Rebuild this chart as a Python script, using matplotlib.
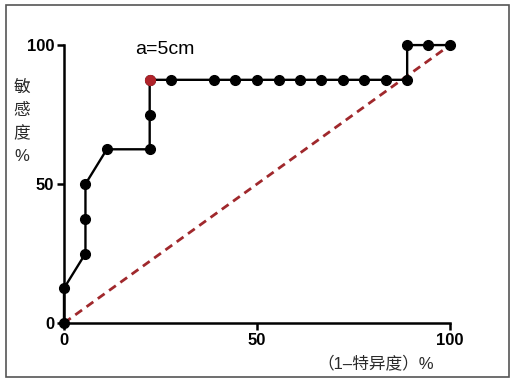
import matplotlib.pyplot as plt
from matplotlib.patches import Rectangle

plt.rcParams['font.family'] = ['Liberation Sans', 'Noto Sans CJK SC', 'DejaVu Sans']

# ROC points: 1 - specificity (%) and sensitivity (%)
fpr = [0, 0, 5.56, 5.56, 5.56, 11.1, 22.2, 22.2, 22.2, 27.8, 38.9, 44.4, 50.0,
       55.6, 61.1, 66.7, 72.2, 77.8, 83.3, 88.9, 88.9, 94.4, 100]
tpr = [0, 12.5, 25, 37.5, 50, 62.5, 62.5, 75, 87.5, 87.5, 87.5, 87.5, 87.5,
       87.5, 87.5, 87.5, 87.5, 87.5, 87.5, 87.5, 100, 100, 100]
cut_x, cut_y = 22.2, 87.5
cut_label = 'a=5cm'
ticks = [0, 50, 100]

fig = plt.figure(figsize=(5.14, 3.82), dpi=100)
ax = fig.add_axes([0.1245, 0.1545, 0.751, 0.7275])

# reference diagonal
ax.plot([0, 100], [0, 100], color='#a0282c', lw=2.0, ls=(0, (3, 2)), zorder=2, clip_on=False)
# ROC curve
ax.plot(fpr, tpr, color='black', lw=1.7, marker='o', ms=7, zorder=3, clip_on=False)
ax.plot([cut_x], [cut_y], 'o', color='#b0232a', ms=7, zorder=4, clip_on=False)
ax.text(cut_x + 4, cut_y + 8, cut_label, ha='center', va='bottom', fontsize=14)

ax.set_xlim(0, 100)
ax.set_ylim(0, 100)
ax.set_xticks(ticks)
ax.set_yticks(ticks)
for s in ['top', 'right']:
    ax.spines[s].set_visible(False)
for s in ['left', 'bottom']:
    ax.spines[s].set_linewidth(1.8)
ax.tick_params(width=1.8, length=5, labelsize=12, pad=2)
for lab in ax.get_xticklabels() + ax.get_yticklabels():
    lab.set_fontweight('bold')

fig.text(22 / 514, 1 - 122 / 382, '敏\n感\n度\n%', ha='center', va='center',
         fontsize=12, color='#2a2a2a', linespacing=1.65)
fig.text(376 / 514, 1 - 363 / 382, '（1–特异度）%', ha='center', va='center',
         fontsize=12, color='#2a2a2a')

# outer frame
fig.patches.append(Rectangle((6 / 514, 5 / 382), 503 / 514, 372 / 382,
                             transform=fig.transFigure, fill=False,
                             edgecolor='#555555', lw=1.2))

fig.savefig('out.png', dpi=100)
